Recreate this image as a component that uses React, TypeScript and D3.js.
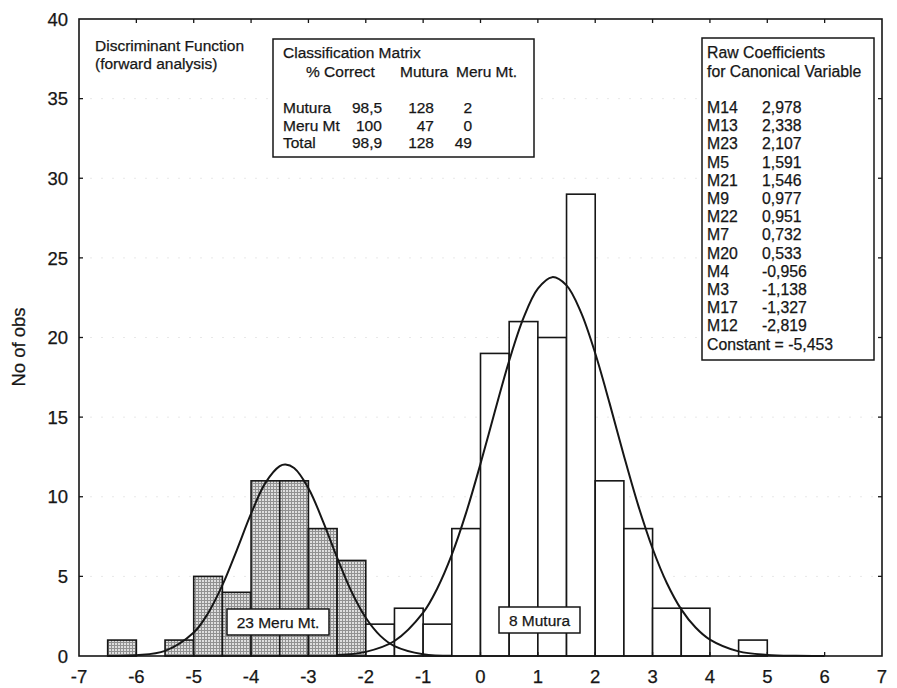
import React from 'react';
import * as d3 from 'd3';

// histogram bins (lower edge, bin width 0.5) and counts
const meruStarts = [-6.5, -5.5, -5, -4.5, -4, -3.5, -3, -2.5];
const meruCounts = [1, 1, 5, 4, 11, 11, 8, 6];
const muturaStarts = [-2, -1.5, -1, -0.5, 0, 0.5, 1, 1.5, 2, 2.5, 3, 3.5, 4.5];
const muturaCounts = [2, 3, 2, 8, 19, 21, 20, 29, 11, 8, 3, 3, 1];
const binWidth = 0.5;

// fitted curves
const meruCurveX = [-6.5, -6, -5.5, -5, -4.75, -4.5, -4.25, -4, -3.75, -3.5, -3.4, -3.25, -3, -2.75, -2.5, -2.25, -2, -1.75, -1.5, -1, -0.5];
const meruCurveY = [0, 0.05, 0.32, 1.47, 2.69, 4.45, 6.64, 8.94, 10.87, 11.92, 12.02, 11.8, 10.54, 8.49, 6.18, 4.05, 2.4, 1.28, 0.62, 0.11, 0.01];
const muturaCurveX = [-2.5, -2, -1.5, -1, -0.75, -0.5, -0.25, 0, 0.25, 0.5, 0.75, 1, 1.25, 1.5, 1.75, 2, 2.25, 2.5, 2.75, 3, 3.25, 3.5, 3.75, 4, 4.5, 5, 5.5, 6];
const muturaCurveY = [0.06, 0.26, 0.94, 2.72, 4.27, 6.36, 9.0, 12.07, 15.35, 18.54, 21.23, 23.07, 23.79, 23.27, 21.59, 19.01, 15.88, 12.58, 9.46, 6.75, 4.57, 2.93, 1.79, 1.03, 0.29, 0.07, 0.01, 0];

const xTicks = [-7, -6, -5, -4, -3, -2, -1, 0, 1, 2, 3, 4, 5, 6, 7];
const yTicks = [0, 5, 10, 15, 20, 25, 30, 35, 40];

const matrixHeader = ['% Correct', 'Mutura', 'Meru Mt.'];
const matrixRows = ['Mutura', 'Meru Mt', 'Total'];
const matrixPct = ['98,5', '100', '98,9'];
const matrixMutura = ['128', '47', '128'];
const matrixMeru = ['2', '0', '49'];

const coefNames = ['M14', 'M13', 'M23', 'M5', 'M21', 'M9', 'M22', 'M7', 'M20', 'M4', 'M3', 'M17', 'M12'];
const coefValues = ['2,978', '2,338', '2,107', '1,591', '1,546', '0,977', '0,951', '0,732', '0,533', '-0,956', '-1,138', '-1,327', '-2,819'];

const W = 897, H = 688;
const left = 79, right = 882, top = 19, bottom = 656;
const font = '"Liberation Sans", Arial, sans-serif';
const ink = '#161616';

export default function App() {
  const x = d3.scaleLinear().domain([-7, 7]).range([left, right]);
  const y = d3.scaleLinear().domain([0, 40]).range([bottom, top]);

  const curve = d3.line<[number, number]>()
    .x(d => x(d[0]))
    .y(d => y(d[1]))
    .curve(d3.curveCatmullRom);

  const meruPts = meruCurveX.map((v, i) => [v, meruCurveY[i]] as [number, number]);
  const muturaPts = muturaCurveX.map((v, i) => [v, muturaCurveY[i]] as [number, number]);

  // scanned print looks a touch heavier than a plain font
  const txt = { fill: ink, stroke: ink, strokeWidth: 0.25 };

  return (
    <svg width={W} height={H} style={{ position: 'absolute', left: 0, top: 0, background: '#fff' }}
      fontFamily={font}>
      <defs>
        <pattern id="hatch" width="3" height="3" patternUnits="userSpaceOnUse">
          <rect width="3" height="3" fill="#dedede" />
          <path d="M0 0.5H3M0.5 0V3" stroke="#919191" strokeWidth="1" />
        </pattern>
      </defs>

      {/* faint gridlines */}
      {yTicks.slice(1, -1).map(t => (
        <line key={'g' + t} x1={left} x2={right} y1={y(t)} y2={y(t)}
          stroke="#e8e8e8" strokeWidth={1} strokeDasharray="2,9" />
      ))}

      {/* bars */}
      {meruStarts.map((s, i) => (
        <rect key={'m' + i} x={x(s)} y={y(meruCounts[i])} width={x(s + binWidth) - x(s)}
          height={y(0) - y(meruCounts[i])} fill="url(#hatch)" stroke={ink} strokeWidth={1.6} />
      ))}
      {muturaStarts.map((s, i) => (
        <rect key={'u' + i} x={x(s)} y={y(muturaCounts[i])} width={x(s + binWidth) - x(s)}
          height={y(0) - y(muturaCounts[i])} fill="#fff" stroke={ink} strokeWidth={1.6} />
      ))}

      {/* fitted curves */}
      <path d={curve(meruPts) || ''} fill="none" stroke={ink} strokeWidth={2} />
      <path d={curve(muturaPts) || ''} fill="none" stroke={ink} strokeWidth={2} />

      {/* frame */}
      <rect x={left} y={top} width={right - left} height={bottom - top} fill="none" stroke={ink} strokeWidth={1.6} />

      {/* ticks, inward on all sides */}
      {xTicks.slice(1, -1).map(t => (
        <g key={'xt' + t}>
          <line x1={x(t)} x2={x(t)} y1={bottom} y2={bottom - 4} stroke={ink} strokeWidth={1.3} />
          <line x1={x(t)} x2={x(t)} y1={top} y2={top + 4} stroke={ink} strokeWidth={1.3} />
        </g>
      ))}
      {yTicks.slice(1, -1).map(t => (
        <g key={'yt' + t}>
          <line x1={left} x2={left + 4} y1={y(t)} y2={y(t)} stroke={ink} strokeWidth={1.3} />
          <line x1={right} x2={right - 4} y1={y(t)} y2={y(t)} stroke={ink} strokeWidth={1.3} />
        </g>
      ))}

      {/* tick labels */}
      {xTicks.map(t => (
        <text key={'xl' + t} x={x(t)} y={683} textAnchor="middle" fontSize={18.5} {...txt}>{t}</text>
      ))}
      {yTicks.map(t => (
        <text key={'yl' + t} x={68} y={y(t)} dy="0.36em" textAnchor="end" fontSize={18.5} {...txt}>{t}</text>
      ))}
      <text transform="translate(25,347) rotate(-90)" textAnchor="middle" fontSize={18.5} {...txt}>No of obs</text>

      {/* title */}
      <text x={95} y={51} fontSize={15.5} {...txt}>Discriminant Function</text>
      <text x={95} y={69} fontSize={15.5} {...txt}>(forward analysis)</text>

      {/* classification matrix */}
      <rect x={273} y={39} width={261} height={118} fill="#fff" stroke={ink} strokeWidth={1.5} />
      <g fontSize={15.5} {...txt}>
        <text x={283} y={58}>Classification Matrix</text>
        <text x={306} y={77}>{matrixHeader[0]}</text>
        <text x={400} y={77}>{matrixHeader[1]}</text>
        <text x={456} y={77}>{matrixHeader[2]}</text>
        {matrixRows.map((r, i) => (
          <g key={'mr' + i}>
            <text x={283} y={113 + i * 17.5}>{r}</text>
            <text x={i === 1 ? 356 : 352} y={113 + i * 17.5}>{matrixPct[i]}</text>
            <text x={434} y={113 + i * 17.5} textAnchor="end">{matrixMutura[i]}</text>
            <text x={472} y={113 + i * 17.5} textAnchor="end">{matrixMeru[i]}</text>
          </g>
        ))}
      </g>

      {/* coefficients */}
      <rect x={702} y={38} width={172} height={322} fill="#fff" stroke={ink} strokeWidth={1.5} />
      <g fontSize={15.8} {...txt}>
        <text x={707} y={58}>Raw Coefficients</text>
        <text x={707} y={77}>for Canonical Variable</text>
        {coefNames.map((n, i) => (
          <g key={'c' + i}>
            <text x={707} y={113 + i * 18.2}>{n}</text>
            <text x={762} y={113 + i * 18.2}>{coefValues[i]}</text>
          </g>
        ))}
        <text x={707} y={113 + coefNames.length * 18.2}>Constant = -5,453</text>
      </g>

      {/* group labels */}
      <rect x={227} y={609} width={102} height={26} fill="#fff" stroke={ink} strokeWidth={1.5} />
      <text x={278} y={622} dy="0.36em" textAnchor="middle" fontSize={15.5} {...txt}>23 Meru Mt.</text>
      <rect x={499} y={607} width={81} height={26} fill="#fff" stroke={ink} strokeWidth={1.5} />
      <text x={539.5} y={620} dy="0.36em" textAnchor="middle" fontSize={15.5} {...txt}>8 Mutura</text>
    </svg>
  );
}
